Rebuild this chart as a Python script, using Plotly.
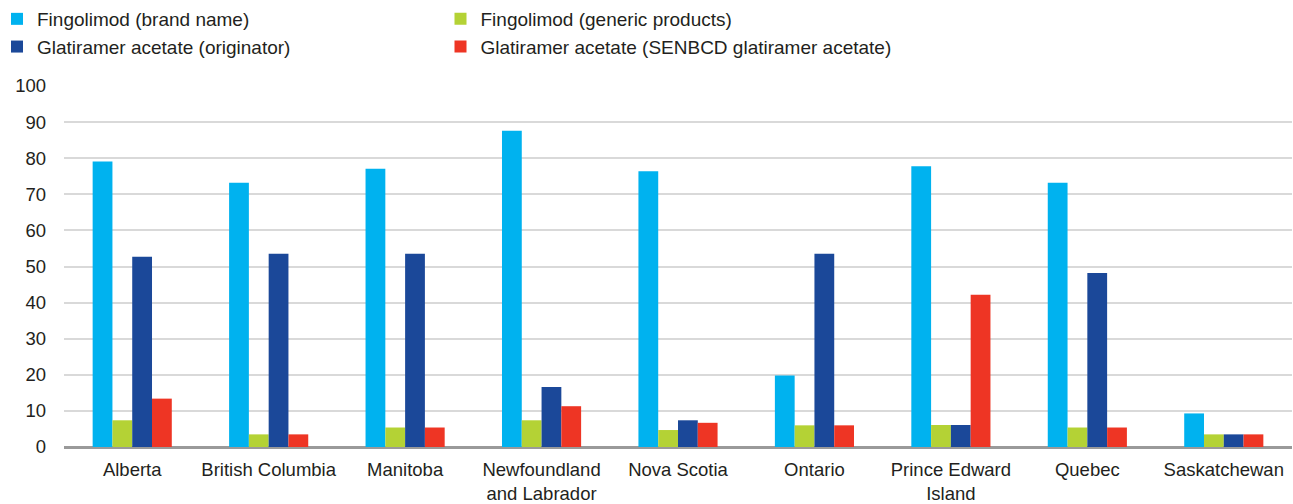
import plotly.graph_objects as go

provinces = ["Alberta", "British Columbia", "Manitoba", "Newfoundland<br>and Labrador",
             "Nova Scotia", "Ontario", "Prince Edward<br>Island", "Quebec", "Saskatchewan"]

fingolimod_brand = [79.1, 73.2, 77.1, 87.6, 76.4, 19.8, 77.8, 73.2, 9.3]
fingolimod_generic = [7.4, 3.5, 5.4, 7.4, 4.7, 6.0, 6.1, 5.4, 3.5]
glatiramer_originator = [52.7, 53.5, 53.5, 16.6, 7.4, 53.5, 6.1, 48.2, 3.5]
glatiramer_senbcd = [13.4, 3.5, 5.4, 11.3, 6.7, 6.0, 42.2, 5.4, 3.5]

# (label, values, colour, legend column)
series = [
    ("Fingolimod (brand name)", fingolimod_brand, "#00B2EF", "legend"),
    ("Fingolimod (generic products)", fingolimod_generic, "#B4D235", "legend2"),
    ("Glatiramer acetate (originator)", glatiramer_originator, "#1B4899", "legend"),
    ("Glatiramer acetate (SENBCD glatiramer acetate)", glatiramer_senbcd, "#EE3524", "legend2"),
]

font_family = "Liberation Sans, Arial, sans-serif"
text_color = "#231F20"
W, H = 1293, 504
ML, MR = 64, 1
plot_w = W - ML - MR

fig = go.Figure()
for name, values, color, leg in series:
    fig.add_trace(go.Bar(
        x=provinces, y=values, name=name, legend=leg,
        marker=dict(color=color, line=dict(width=0)),
    ))

legend_common = dict(
    orientation="v", xref="paper", yref="container",
    y=1.0, xanchor="left", yanchor="top",
    font=dict(size=19, color=text_color),
    itemwidth=30, tracegroupgap=0, bgcolor="rgba(0,0,0,0)",
)

fig.update_layout(
    width=W, height=H,
    margin=dict(l=ML, r=MR, t=86, b=57, autoexpand=False),
    paper_bgcolor="white", plot_bgcolor="white",
    barmode="group", bargap=0.42, bargroupgap=0,
    font=dict(family=font_family, size=19, color=text_color),
    legend=dict(x=(-3 - ML) / plot_w, **legend_common),
    legend2=dict(x=(440.5 - ML) / plot_w, **legend_common),
    showlegend=True,
)

fig.update_yaxes(
    range=[0, 100], dtick=10, tick0=0,
    showgrid=True, gridcolor="#D9D9D9", gridwidth=1.5,
    zeroline=True, zerolinecolor="#9A9A9A", zerolinewidth=3,
    showline=False, ticks="", ticklabelstandoff=17, automargin=False,
    tickfont=dict(size=18.5, color=text_color),
)
fig.update_xaxes(
    showgrid=False, showline=False, ticks="", automargin=False,
    tickfont=dict(size=18.5, color=text_color),
    ticklabelstandoff=9,
)

fig.write_html("out.html")
